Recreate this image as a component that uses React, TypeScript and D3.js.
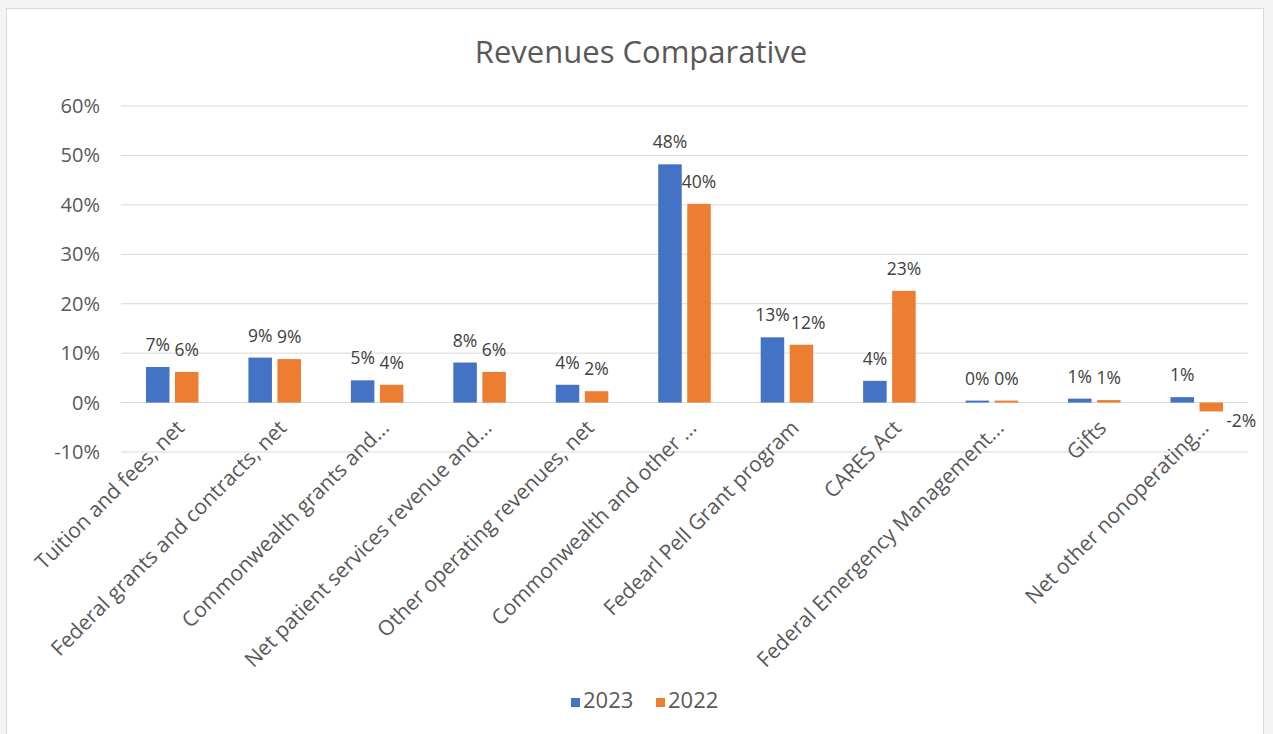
import React from "react";
import * as d3 from "d3";

const categories = [
  "Tuition and fees, net",
  "Federal grants and contracts, net",
  "Commonwealth grants and...",
  "Net patient services revenue and...",
  "Other operating revenues, net",
  "Commonwealth and other ...",
  "Fedearl Pell Grant program",
  "CARES Act",
  "Federal Emergency Management...",
  "Gifts",
  "Net other nonoperating...",
];
const series = ["2023", "2022"];
const values2023 = [7.2, 9.1, 4.5, 8.1, 3.6, 48.2, 13.2, 4.4, 0.4, 0.8, 1.1];
const values2022 = [6.2, 8.8, 3.6, 6.2, 2.3, 40.2, 11.7, 22.6, 0.4, 0.5, -1.8];
const yTicks = [-10, 0, 10, 20, 30, 40, 50, 60];
const colors = ["#4472C4", "#ED7D31"];

const W = 1273;
const H = 734;
const FONT = "'Open Sans', 'Noto Sans', sans-serif";
const TEXT = "#595959";
const LABEL_SIZE = 17.5;

function approxWidth(s: string, size: number) {
  let w = 0;
  for (const ch of s) w += ch === "%" ? 0.84 : ch === "-" ? 0.32 : 0.572;
  return w * size;
}

export default function App() {
  const x0 = d3.scaleBand<string>().domain(categories).range([121, 1248]).padding(0);
  const x1 = d3
    .scaleBand<string>()
    .domain(series)
    .range([0, x0.bandwidth()])
    .paddingInner(0.19)
    .paddingOuter(0.86);
  const y = d3.scaleLinear().domain([-10, 60]).range([452, 106]);
  const data = [values2023, values2022];
  const bw = x1.bandwidth();

  const labels = categories.map((c, i) => {
    const items = series.map((s, si) => {
      const v = data[si][i];
      const bx = (x0(c) as number) + (x1(s) as number);
      const text = `${Math.round(v)}%`;
      const lx = bx + bw / 2 + (v < 0 ? 30 : 0);
      const ly = v < 0 ? y(v) + 16 : y(v) - 16;
      return { text, lx, ly, w: approxWidth(text, LABEL_SIZE) };
    });
    const [a, b] = items;
    if (Math.abs(a.ly - b.ly) < LABEL_SIZE) {
      const overlap = a.lx + a.w / 2 - (b.lx - b.w / 2) + 1;
      if (overlap > 0) b.lx += overlap;
    }
    return items;
  });

  return (
    <svg
      width={W}
      height={H}
      style={{ position: "absolute", left: 0, top: 0, background: "#f4f4f4" }}
      fontFamily={FONT}
    >
      <rect x={6.5} y={8.5} width={1257} height={740} fill="#ffffff" stroke="#d9d9d9" />
      <text x={641} y={63} textAnchor="middle" fontSize={31} fill={TEXT}>
        Revenues Comparative
      </text>
      {yTicks.map((t) => (
        <g key={t}>
          <line x1={121} x2={1248} y1={y(t)} y2={y(t)} stroke="#d9d9d9" strokeWidth={1} />
          <text
            x={100}
            y={y(t)}
            dy="0.35em"
            textAnchor="end"
            fontSize={20}
            fill={TEXT}
          >
            {t}%
          </text>
        </g>
      ))}
      {series.map((s, si) =>
        categories.map((c, i) => {
          const v = data[si][i];
          const bx = (x0(c) as number) + (x1(s) as number);
          const top = Math.min(y(v), y(0));
          const h = Math.abs(y(v) - y(0));
          const lab = labels[i][si];
          return (
            <g key={s + c}>
              <rect x={bx} y={top} width={bw} height={Math.max(h, 0.5)} fill={colors[si]} />
              <text x={lab.lx} y={lab.ly} textAnchor="middle" fontSize={LABEL_SIZE} fill="#404040">
                {lab.text}
              </text>
            </g>
          );
        })
      )}
      {categories.map((c) => {
        const cx = (x0(c) as number) + x0.bandwidth() / 2;
        return (
          <text
            key={c}
            transform={`translate(${cx + 8},${424}) rotate(-45)`}
            textAnchor="end"
            dy="0.35em"
            fontSize={21}
            fill={TEXT}
          >
            {c}
          </text>
        );
      })}
      {series.map((s, si) => {
        const lx = [571, 656][si];
        return (
          <g key={s}>
            <rect x={lx} y={698} width={9} height={9} fill={colors[si]} />
            <text x={lx + 12} y={708} fontSize={22} fill={TEXT}>
              {s}
            </text>
          </g>
        );
      })}
    </svg>
  );
}
